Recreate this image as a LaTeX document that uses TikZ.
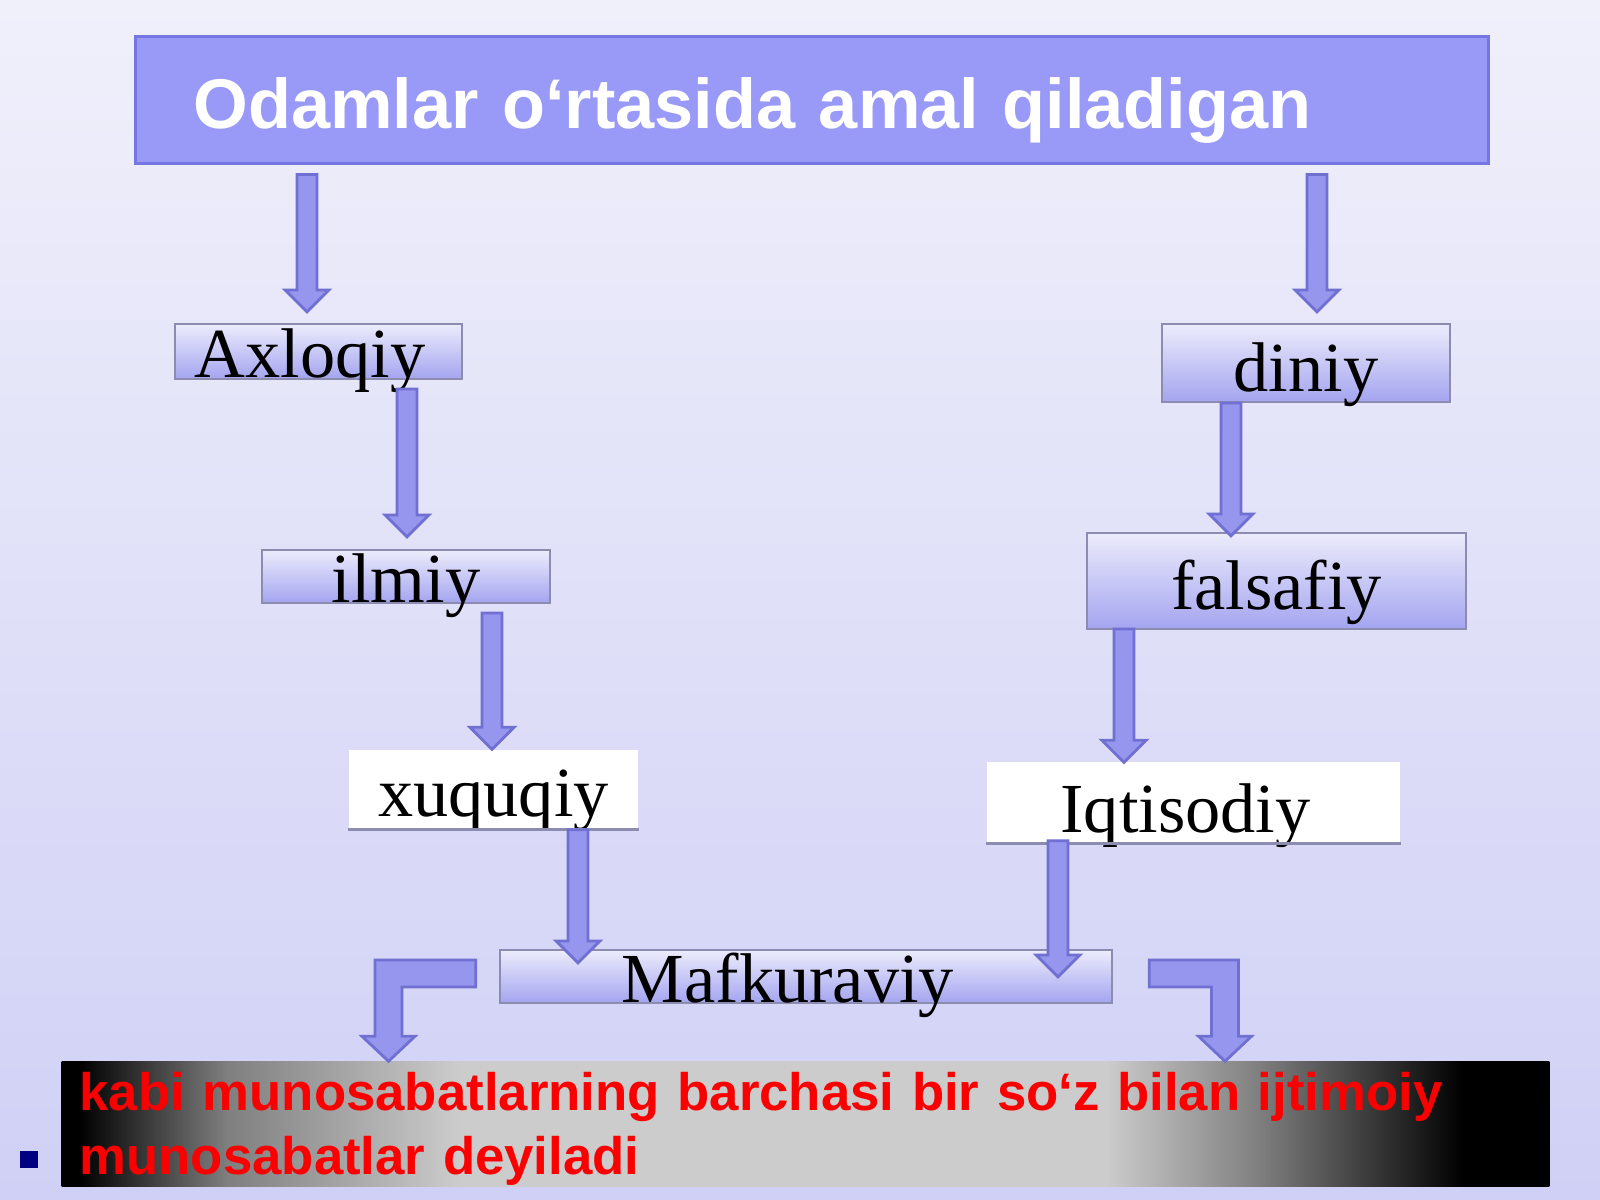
\documentclass[tikz,border=0pt]{standalone}
\usepackage{fontspec}
\setmainfont{Liberation Serif}
\newfontfamily\headfont{Liberation Sans}
\usetikzlibrary{calc}
\definecolor{bgtop}{RGB}{240,240,251}
\definecolor{bgbot}{RGB}{208,208,246}
\definecolor{headblue}{RGB}{153,153,248}
\definecolor{headedge}{RGB}{118,118,224}
\definecolor{arrowfill}{RGB}{150,150,238}
\definecolor{arrowedge}{RGB}{112,112,210}
\definecolor{boxtop}{RGB}{236,236,252}
\definecolor{boxbot}{RGB}{164,164,240}
\definecolor{boxedge}{RGB}{140,140,176}
\definecolor{notered}{RGB}{250,0,0}
\definecolor{bulletblue}{RGB}{0,0,128}
\pgfdeclarehorizontalshading{silverbar}{100bp}{color(0bp)=(black); color(25.6bp)=(black); color(30.6bp)=(black!50); color(38.4bp)=(black!20); color(60.1bp)=(black!20); color(65.2bp)=(black!50); color(72.1bp)=(black); color(100bp)=(black)}
\tikzset{
  headbox/.style={draw=headedge, line width=0.03cm, fill=headblue, inner xsep=0.58cm, inner ysep=0pt,
    text width=12.36cm, minimum height=1.26cm, align=left, text height=0.56cm, text depth=0pt,
    text=white, font=\headfont\bfseries\fontsize{20}{24}\selectfont},
  labelbox/.style={draw=boxedge, line width=0.6pt, top color=boxtop, bottom color=boxbot, inner sep=0pt,
    text height=0.52cm, text depth=0pt, font=\fontsize{20}{24}\selectfont},
  whitebox/.style={fill=white, inner sep=0pt, text height=0.53cm, text depth=0pt,
    font=\fontsize{20}{24}\selectfont},
  notebox/.style={shade, shading=silverbar, minimum height=1.24cm, inner xsep=0.18cm, inner ysep=0pt,
    text width=14.51cm, align=left, text depth=0.66cm, text=notered,
    font=\headfont\bfseries\fontsize{15}{18.4}\selectfont},
  downarrow/.style={fill=arrowfill, draw=arrowedge, line width=0.8pt,
    to path={($(\tikztostart)+(-10,0)$) -- ($(\tikztotarget)+(-10,-22)$) -- ($(\tikztotarget)+(-22,-22)$)
      -- (\tikztotarget) -- ($(\tikztotarget)+(22,-22)$) -- ($(\tikztotarget)+(10,-22)$)
      -- ($(\tikztostart)+(10,0)$) -- cycle}},
  bentarrow/.style={fill=arrowfill, draw=arrowedge, line width=0.8pt,
    to path={(\tikztostart) -- ($(\tikztostart-|\tikztotarget)+({(#1)*13.5},0)$)
      -- ($(\tikztotarget)+({(#1)*13.5},-25)$) -- ($(\tikztotarget)+({(#1)*26.5},-25)$)
      -- (\tikztotarget) -- ($(\tikztotarget)+({(-1)*(#1)*26.5},-25)$)
      -- ($(\tikztotarget)+({(-1)*(#1)*13.5},-25)$) -- ($(\tikztostart-|\tikztotarget)+({(-1)*(#1)*13.5},27)$)
      -- ($(\tikztostart)+(0,27)$) -- cycle}}
}
\begin{document}
\begin{tikzpicture}[x=0.01cm, y=-0.01cm]
    \useasboundingbox (0,0) rectangle (1600,1200);
    \shade[top color=bgtop, bottom color=bgbot] (0,0) rectangle (1600,1200);

    \node[headbox] (head) at (812,100) {Odamlar o‘rtasida amal qiladigan};

    \node[labelbox, minimum width=2.87cm, minimum height=0.55cm] (axl) at (318.5,351.5) {Axloqiy\kern0.17cm};
    \node[labelbox, minimum width=2.88cm, minimum height=0.78cm, text height=0.56cm] (din) at (1306,363) {diniy};
    \node[labelbox, minimum width=2.88cm, minimum height=0.53cm] (ilm) at (406,576.5) {ilmiy};
    \node[labelbox, minimum width=3.79cm, minimum height=0.96cm, text height=0.56cm] (fal) at (1276.5,581) {falsafiy};
    \node[whitebox, minimum width=2.89cm, minimum height=0.79cm] (xuq) at (493.5,789.5) {xuquqiy};
    \node[whitebox, minimum width=4.13cm, minimum height=0.81cm, text height=0.59cm] (iqt) at (1193.5,802.5) {Iqtisodiy\kern0.16cm};
    \foreach \b in {xuq,iqt}
        \draw[boxedge, line width=0.8pt] (\b.south west) -- (\b.south east);
    \node[labelbox, minimum width=6.12cm, minimum height=0.53cm] (maf) at (806,976.5) {Mafkuraviy\kern0.36cm};

    \node[notebox] (note) at (805.5,1124) {kabi munosabatlarning barchasi bir so‘z bilan ijtimoiy\\munosabatlar deyiladi};
    \fill[bulletblue] (20,1151) rectangle (38,1168);

    \draw[downarrow] ($(head.south)+(-505,10)$) to ($(axl.north)+(-11.5,-11)$);
    \draw[downarrow] ($(head.south)+(505,10)$) to ($(din.north)+(11,-11)$);
    \draw[downarrow] ($(axl.south)+(88.5,9)$) to ($(ilm.north)+(1,-12)$);
    \draw[downarrow] ($(din.south)+(-75,0)$) to ($(fal.north)+(-45.5,4)$);
    \draw[downarrow] ($(ilm.south)+(86,9)$) to ($(xuq.north)+(-1.5,0)$);
    \draw[downarrow] ($(fal.south)+(-152.5,-1)$) to ($(iqt.north)+(-69.5,1)$);
    \draw[downarrow] ($(xuq.south)+(84.5,0)$) to ($(maf.north)+(-228,14)$);
    \draw[downarrow] ($(iqt.south)+(-135.5,-3)$) to ($(maf.north)+(252,28)$);

    \draw[bentarrow=-1] ($(maf.north west)+(-23,11)$) to ($(note.north)+(-417,0)$);
    \draw[bentarrow=1] ($(maf.north east)+(36,11)$) to ($(note.north)+(419.5,0)$);
\end{tikzpicture}
\end{document}
